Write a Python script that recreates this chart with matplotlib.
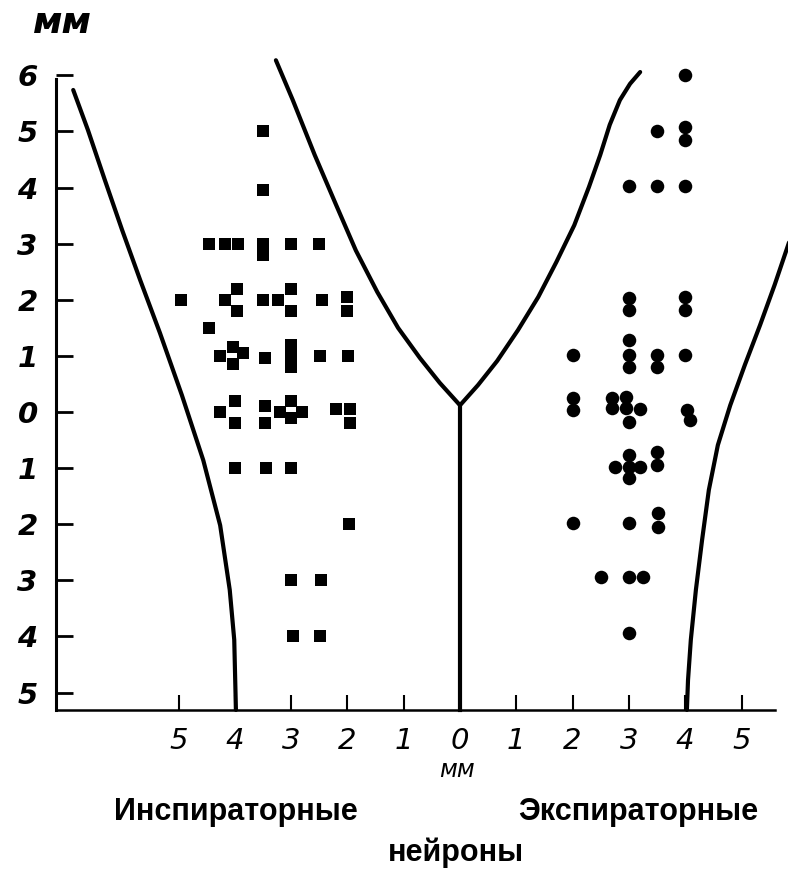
import matplotlib
matplotlib.use("Agg")
import matplotlib.pyplot as plt
import numpy as np

# ---------------- data (mm) ----------------
insp_x = [-3.5, -3.5, -4.46, -4.17, -3.94, -3.5, -3.5, -3.0, -2.5,
          -4.96, -4.17, -3.96, -3.96, -3.5, -3.23, -3.0, -3.0, -2.45, -2.0, -2.0,
          -4.46,
          -4.26, -4.03, -4.03, -3.85, -3.47, -3.0, -3.0, -3.0, -2.49, -1.99,
          -4.26, -4.0, -4.0, -3.47, -3.47, -3.0, -3.0, -3.2, -2.8, -2.2, -1.95, -1.95,
          -4.0, -3.45, -3.0,
          -1.97, -3.0, -2.47, -2.97, -2.49]
insp_y = [5.0, 3.96, 3.0, 3.0, 3.0, 3.0, 2.8, 3.0, 3.0,
          2.0, 2.0, 2.2, 1.8, 2.0, 2.0, 2.2, 1.8, 2.0, 2.05, 1.8,
          1.5,
          1.0, 1.15, 0.85, 1.05, 0.97, 1.2, 1.0, 0.8, 1.0, 1.0,
          0.0, 0.2, -0.2, 0.1, -0.2, 0.2, -0.1, 0.0, 0.0, 0.05, 0.05, -0.2,
          -1.0, -1.0, -1.0,
          -2.0, -3.0, -3.0, -4.0, -4.0]

exp_x = [4.0, 3.5, 4.0, 4.0, 3.0, 3.5, 4.0, 3.0, 3.0, 4.0, 4.0, 3.0,
         2.0, 3.0, 3.0, 3.5, 3.5, 4.0,
         2.0, 2.0, 2.7, 2.7, 2.95, 3.2, 2.95, 3.0, 4.03, 4.09,
         3.0, 2.75, 3.2, 3.0, 3.0, 3.5, 3.5,
         2.0, 3.0, 3.52, 3.52, 2.5, 3.0, 3.25, 3.0]
exp_y = [6.0, 5.0, 5.08, 4.85, 4.03, 4.03, 4.03, 2.03, 1.82, 2.05, 1.82, 1.28,
         1.02, 1.02, 0.8, 1.02, 0.8, 1.02,
         0.25, 0.04, 0.25, 0.07, 0.27, 0.05, 0.07, -0.18, 0.04, -0.14,
         -0.77, -0.98, -0.98, -1.18, -0.98, -0.71, -0.94,
         -1.98, -1.98, -1.8, -2.05, -2.94, -2.94, -2.94, -3.94]

# boundary curves (mm)
left_outer_x = [-6.87, -6.61, -6.31, -6.00, -5.68, -5.33, -4.94, -4.56, -4.26, -4.09, -4.01, -3.98]
left_outer_y = [5.74, 5.03, 4.14, 3.24, 2.35, 1.41, 0.30, -0.86, -2.02, -3.17, -4.06, -5.31]

v_x = [-3.27, -2.97, -2.58, -2.20, -1.85, -1.47, -1.10, -0.71, -0.36, 0.0,
       0.32, 0.66, 1.03, 1.39, 1.71, 2.03, 2.29, 2.49, 2.66, 2.84, 3.02, 3.20]
v_y = [6.27, 5.56, 4.58, 3.69, 2.88, 2.14, 1.50, 0.96, 0.52, 0.12,
       0.48, 0.91, 1.46, 2.05, 2.67, 3.33, 4.01, 4.58, 5.12, 5.56, 5.85, 6.06]

stem_x = [0.0, 0.0]
stem_y = [0.12, -5.31]

right_outer_x = [5.86, 5.59, 5.33, 5.06, 4.80, 4.58, 4.42, 4.30, 4.19, 4.10, 4.05, 4.03]
right_outer_y = [3.07, 2.27, 1.55, 0.84, 0.12, -0.59, -1.39, -2.28, -3.17, -4.06, -4.78, -5.31]

y_ticks = [-5, -4, -3, -2, -1, 0, 1, 2, 3, 4, 5, 6]
y_ticklabels = ["5", "4", "3", "2", "1", "0", "1", "2", "3", "4", "5", "6"]
x_ticks = [-5, -4, -3, -2, -1, 0, 1, 2, 3, 4, 5]
x_ticklabels = ["5", "4", "3", "2", "1", "0", "1", "2", "3", "4", "5"]

# ---------------- figure ----------------
W, H = 788, 881
fig = plt.figure(figsize=(W / 100, H / 100), dpi=100)
ax = fig.add_axes([0, 0, 1, 1])
ax.patch.set_alpha(0)

x0, sx = 460.0, 56.3
y0, sy = 412.0, 56.1
ax.set_xlim((0 - x0) / sx, (W - x0) / sx)
ax.set_ylim((y0 - H) / sy, y0 / sy)

y_axis_pos = -7.18
x_axis_pos = -5.31

for s in ["top", "right"]:
    ax.spines[s].set_visible(False)
ax.spines["left"].set_position(("data", y_axis_pos))
ax.spines["left"].set_bounds(x_axis_pos, 5.93)
ax.spines["left"].set_linewidth(2.2)
ax.spines["bottom"].set_position(("data", x_axis_pos))
ax.spines["bottom"].set_bounds(y_axis_pos, 5.6)
ax.spines["bottom"].set_linewidth(1.8)

ax.set_yticks(y_ticks)
ax.set_yticklabels(y_ticklabels, fontsize=21, fontstyle="italic", fontweight="bold")
ax.set_xticks(x_ticks)
ax.set_xticklabels(x_ticklabels, fontsize=21, fontstyle="italic")
ax.tick_params(axis="y", direction="in", length=12, width=2, pad=13)
ax.tick_params(axis="x", direction="in", length=11, width=1.5, pad=12)

# curves
lw = 3.0
kw = dict(color="black", lw=lw, solid_capstyle="round", solid_joinstyle="round")
ax.plot(left_outer_x, left_outer_y, **kw)
ax.plot(v_x, v_y, **kw)
ax.plot(stem_x, stem_y, color="black", lw=lw)
ax.plot(right_outer_x, right_outer_y, **kw)

# points
ax.scatter(insp_x, insp_y, marker="s", s=68, color="black", linewidths=0, zorder=3)
ax.scatter(exp_x, exp_y, marker="o", s=95, color="black", linewidths=0, zorder=3)

# texts
fig.text(62 / W, 1 - 23 / H, "мм", fontsize=26, fontstyle="italic", fontweight="bold",
         ha="center", va="center")
fig.text(457 / W, 1 - 770 / H, "мм", fontsize=17, fontstyle="italic",
         ha="center", va="center")
bfont = dict(fontsize=22, fontweight="bold", family="Liberation Sans", ha="center", va="center")
fig.text(236 / W, 1 - 812 / H, "Инспираторные", **bfont)
fig.text(638 / W, 1 - 812 / H, "Экспираторные", **bfont)
fig.text(456 / W, 1 - 853 / H, "нейроны", **bfont)

fig.savefig("out.png", dpi=100, facecolor="white")
